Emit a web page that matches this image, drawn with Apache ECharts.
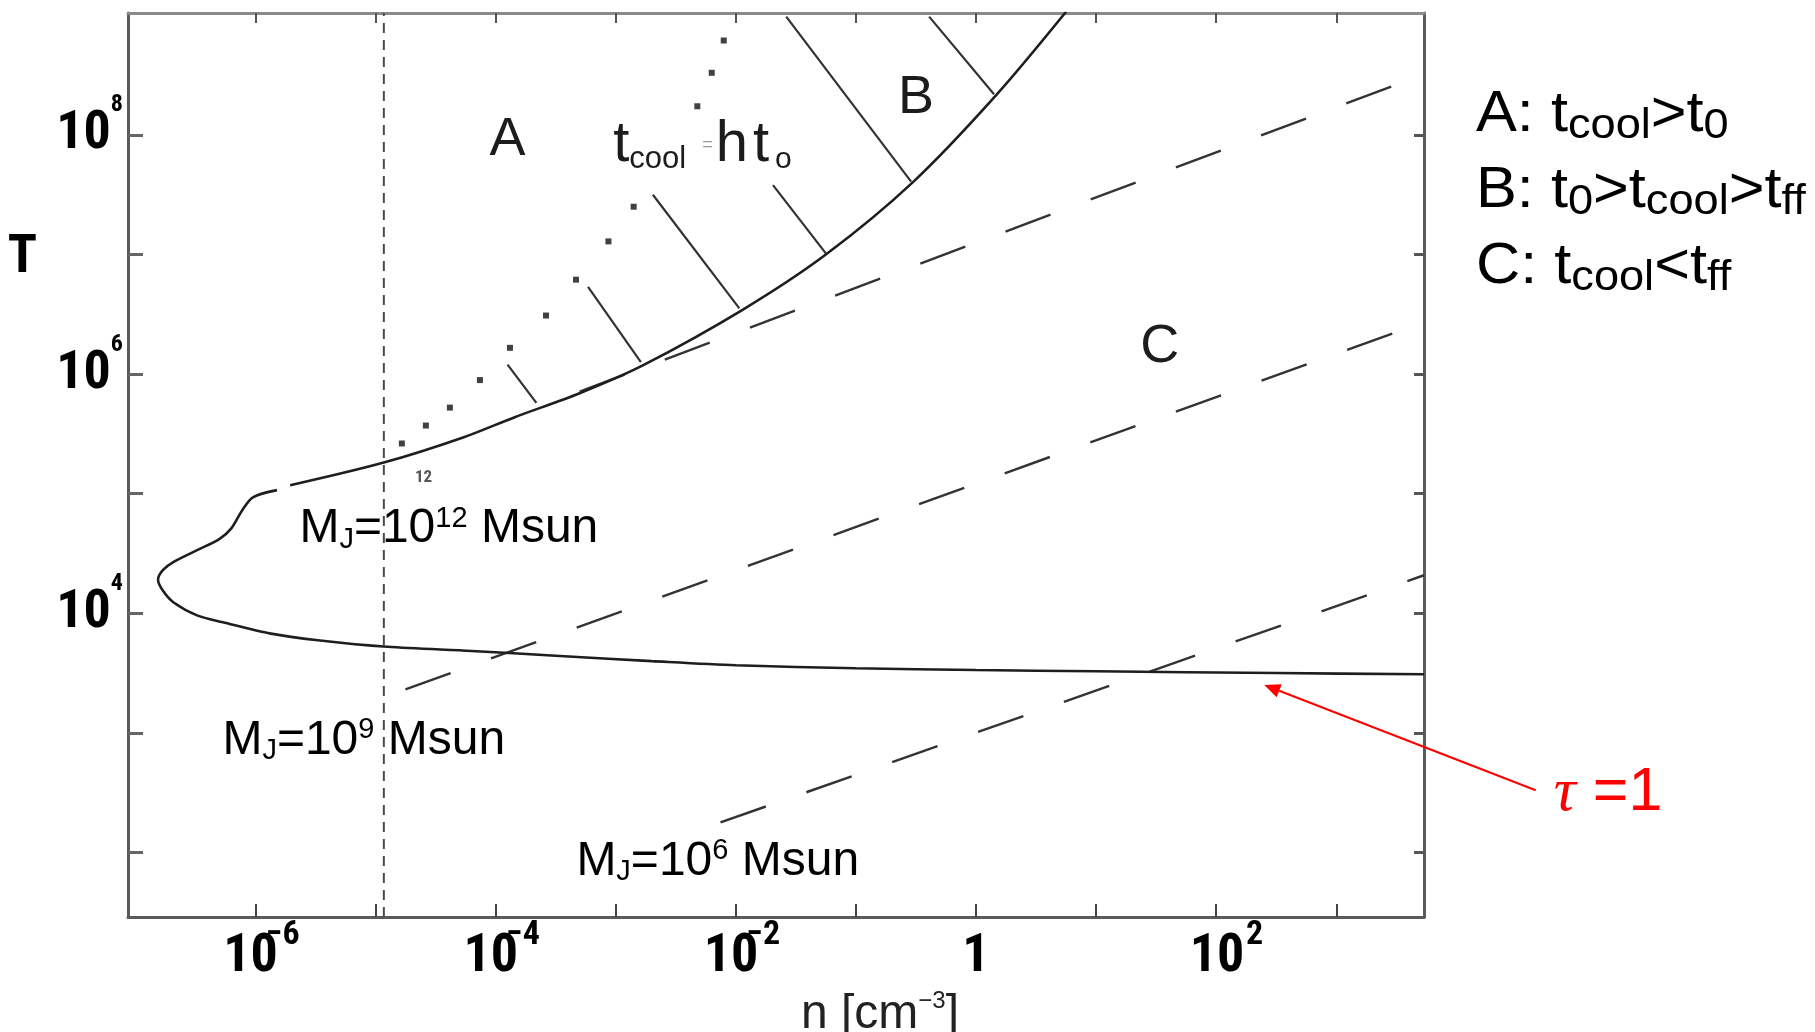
<!DOCTYPE html>
<html>
<head>
<meta charset="utf-8">
<title>Cooling diagram</title>
<script src="https://cdn.jsdelivr.net/npm/echarts@6/dist/echarts.min.js"></script>
<style>
  html, body { margin: 0; padding: 0; background: #ffffff; }
  #chart { width: 1815px; height: 1032px; }
</style>
</head>
<body>
<div id="chart"></div>
<script>
// ---------------------------------------------------------------
// Axis extents, in log10 units (n in cm^-3, T in K)
// ---------------------------------------------------------------
const logNMin = -7.06, logNMax = 3.73;
const logTMin = 1.46, logTMax = 9.02;

// ticks every decade, labels every second decade
const nTicks = [-6, -5, -4, -3, -2, -1, 0, 1, 2, 3];
const nLabelTicks = [-6, -4, -2, 0, 2];
const nLabelExps = ['−6', '−4', '−2', '', '2'];
const tTicks = [2, 3, 4, 5, 6, 7, 8];
const tLabelTicks = [4, 6, 8];
const tLabelExps = ['4', '6', '8'];

// ---------------------------------------------------------------
// t_cool = t_ff boundary (solid); null marks the small break
// ---------------------------------------------------------------
const coolLogN = [3.73, 2.5, 1.0, 0.0, -1.0, -2.0, -2.7, -3.5, -4.2, -4.9, -5.48, -5.87, -6.27,
  -6.48, -6.68, -6.77, -6.81, -6.77, -6.68, -6.48, -6.30, -6.20, -6.11, -6.02, -5.82, null,
  -5.71, -4.93, -4.27, -3.84, -3.3, -2.77, -1.94, -1.25, -0.52, 0.17, 0.75];
const coolLogT = [3.49, 3.50, 3.515, 3.525, 3.54, 3.565, 3.60, 3.645, 3.685, 3.72, 3.775, 3.83, 3.925,
  3.98, 4.09, 4.19, 4.28, 4.36, 4.43, 4.53, 4.62, 4.71, 4.86, 4.97, 5.03, null,
  5.07, 5.26, 5.47, 5.64, 5.84, 6.075, 6.54, 7.00, 7.61, 8.335, 9.03];

// t_cool = h t0 (dotted)
const hLogN = [-2.10, -2.20, -2.32, -2.85, -3.06, -3.33, -3.58, -3.88, -4.13, -4.38, -4.58, -4.78];
const hLogT = [8.79, 8.52, 8.24, 7.40, 7.11, 6.79, 6.49, 6.22, 5.95, 5.72, 5.57, 5.42];

// hatching strokes on region B (outer end -> curve end)
const hatchN0 = [-3.90, -3.23, -2.69, -1.69, -1.58, -0.39];
const hatchT0 = [6.08, 6.73, 7.50, 7.58, 8.99, 8.99];
const hatchN1 = [-3.66, -2.79, -1.97, -1.25, -0.54, 0.15];
const hatchT1 = [5.76, 6.10, 6.55, 7.01, 7.61, 8.34];

// constant Jeans mass lines (dashed)
const mj12LogN = [-3.3, 3.73];
const mj12LogT = [5.854, 8.508];
const mj9LogN = [-4.75, 3.73];
const mj9LogT = [3.364, 6.435];
const mj6LogN = [-2.127, 3.73];
const mj6LogT = [2.251, 4.318];

// vertical dash-dot line
const cutLogN = -4.93;

// tau = 1 pointer (tip, tail)
const tauArrowN = [2.40, 4.66];
const tauArrowT = [3.40, 2.52];

// ---------------------------------------------------------------
// Fonts: prefer a condensed face for the tick lettering
// ---------------------------------------------------------------
const SANS = "'Liberation Sans',Arial,Helvetica,sans-serif";
const SERIF = "'Liberation Serif','Times New Roman',serif";

function faceExists(spec) {
  const ctx = document.createElement('canvas').getContext('2d');
  const sample = 'mmmmwwwwlli10ABCxyz';
  return ['monospace', 'serif'].every(function (base) {
    ctx.font = '40px ' + base;
    const w0 = ctx.measureText(sample).width;
    ctx.font = spec.stretch + ' 40px "' + spec.family + '", ' + base;
    const w1 = ctx.measureText(sample).width;
    if (w0 === w1) return false;
    if (spec.stretch !== 'normal') {
      ctx.font = '40px "' + spec.family + '", ' + base;
      return ctx.measureText(sample).width > w1 + 1;
    }
    return true;
  });
}
const narrowCandidates = [
  { family: 'Liberation Sans Narrow', stretch: 'normal' },
  { family: 'Roboto Condensed', stretch: 'normal' },
  { family: 'Noto Sans', stretch: 'condensed' },
  { family: 'Noto Sans Condensed', stretch: 'normal' },
  { family: 'DejaVu Sans Condensed', stretch: 'normal' },
  { family: 'DejaVu Sans', stretch: 'condensed' },
  { family: 'Open Sans', stretch: 'condensed' }
];
const narrow = narrowCandidates.find(faceExists) || null;
const NARROW = narrow ? '"' + narrow.family + '", ' + SANS : SANS;
const STRETCH = narrow && narrow.stretch !== 'normal' ? ' ' + narrow.stretch : '';
const tickSize = narrow ? 54 : 48;
const BOLD = 'bold' + STRETCH;

function zip(xs, ys) {
  return xs.map((x, i) => (x === null ? ['-', '-'] : [x, ys[i]]));
}
function segments(x0, y0, x1, y1) {
  const out = [];
  x0.forEach((x, i) => {
    out.push([x, y0[i]], [x1[i], y1[i]], ['-', '-']);
  });
  return out;
}
function measure(text, font) {
  const ctx = document.createElement('canvas').getContext('2d');
  ctx.font = font;
  return ctx.measureText(text).width;
}

const chart = echarts.init(document.getElementById('chart'), null, { renderer: 'canvas' });

// widths used to tuck the exponent against the "10"
const xSup = 34;
const tenW = measure('10', BOLD + ' ' + tickSize + 'px ' + NARROW);
const supW = measure('−6', BOLD + ' ' + xSup + 'px ' + NARROW);
const negBase = Math.round(tenW * 0.5 + 4);
const posBase = Math.round(tenW + 3);
const negPad = Math.max(0, Math.round(supW + negBase - tenW + 14));
const posPad = Math.max(0, Math.round(measure('2', BOLD + ' ' + xSup + 'px ' + NARROW) + posBase - tenW - 2));

const labelRichX = {
  pn: { width: negPad },
  pp: { width: posPad },
  bn: { fontSize: tickSize, fontWeight: BOLD, fontFamily: NARROW, width: negBase, lineHeight: 79, color: '#000' },
  bp: { fontSize: tickSize, fontWeight: BOLD, fontFamily: NARROW, width: posBase, lineHeight: 79, color: '#000' },
  one: { fontSize: tickSize, fontWeight: BOLD, fontFamily: NARROW, lineHeight: 79, color: '#000' },
  s: { fontSize: xSup, fontWeight: BOLD, fontFamily: NARROW, verticalAlign: 'top', lineHeight: 22, color: '#000' }
};
const labelRichY = {
  b: { fontSize: tickSize, fontWeight: BOLD, fontFamily: NARROW, width: Math.round(tenW - 12), lineHeight: 83, color: '#000' },
  s: { fontSize: 24, fontWeight: BOLD, fontFamily: NARROW, verticalAlign: 'top', lineHeight: 20, color: '#000' }
};

const frameColor = '#5a5a5a';

const option = {
  animation: false,
  backgroundColor: '#ffffff',
  grid: { left: 128, top: 13, width: 1296, height: 904, containLabel: false, outerBoundsMode: 'none' },
  xAxis: [
    {
      type: 'value', min: logNMin, max: logNMax, position: 'bottom',
      axisLine: { show: true, onZero: false, lineStyle: { color: frameColor, width: 3 } },
      axisTick: { show: true, inside: true, length: 13, customValues: nTicks, lineStyle: { color: '#444', width: 2 } },
      splitLine: { show: false },
      axisLabel: {
        show: true, margin: 1, customValues: nLabelTicks,
        formatter: function (v) {
          const i = nLabelTicks.indexOf(Math.round(v));
          const e = nLabelExps[i];
          if (e === '') return '{one|1}';
          if (e.charAt(0) === '−') return '{pn| }{bn|10}{s|' + e + '}';
          return '{pp| }{bp|10}{s|' + e + '}';
        },
        rich: labelRichX
      },
      name: '{a|n [cm}{s|−3}{a|]}',
      nameLocation: 'middle', nameGap: 54,
      nameTextStyle: {
        padding: [0, 0, 0, 208],
        rich: {
          a: { fontSize: 48, fontFamily: SANS, color: '#222', lineHeight: 50 },
          s: { fontSize: 24, fontFamily: SANS, color: '#222', verticalAlign: 'top', lineHeight: 20 }
        }
      }
    },
    {
      type: 'value', min: logNMin, max: logNMax, position: 'top',
      axisLine: { show: true, onZero: false, lineStyle: { color: '#8a8a8a', width: 3 } },
      axisTick: { show: true, inside: true, length: 10, customValues: nTicks, lineStyle: { color: '#555', width: 2 } },
      axisLabel: { show: false },
      splitLine: { show: false }
    }
  ],
  yAxis: [
    {
      type: 'value', min: logTMin, max: logTMax, position: 'left',
      axisLine: { show: true, onZero: false, lineStyle: { color: frameColor, width: 3 } },
      axisTick: { show: true, inside: true, length: 15, customValues: tTicks, lineStyle: { color: '#666', width: 3 } },
      splitLine: { show: false },
      axisLabel: {
        show: true, margin: 5, customValues: tLabelTicks,
        formatter: function (v) {
          const i = tLabelTicks.indexOf(Math.round(v));
          return '{b|10}{s|' + tLabelExps[i] + '}';
        },
        rich: labelRichY
      }
    },
    {
      type: 'value', min: logTMin, max: logTMax, position: 'right',
      axisLine: { show: true, onZero: false, lineStyle: { color: frameColor, width: 3 } },
      axisTick: { show: true, inside: true, length: 10, customValues: tTicks, lineStyle: { color: '#555', width: 3 } },
      axisLabel: { show: false },
      splitLine: { show: false }
    }
  ],
  series: [
    {
      name: 't_cool = t_ff', type: 'line', xAxisIndex: 0, yAxisIndex: 0,
      data: zip(coolLogN, coolLogT), showSymbol: false, smooth: 0.3, connectNulls: false,
      lineStyle: { color: '#1e1e1e', width: 2.6 }, z: 4
    },
    {
      name: 't_cool = h t0', type: 'scatter', xAxisIndex: 0, yAxisIndex: 0,
      data: zip(hLogN, hLogT), symbol: 'rect', symbolSize: 6,
      itemStyle: { color: '#111' }, z: 4
    },
    {
      name: 'hatch', type: 'line', xAxisIndex: 0, yAxisIndex: 0,
      data: segments(hatchN0, hatchT0, hatchN1, hatchT1), showSymbol: false, connectNulls: false,
      lineStyle: { color: '#333', width: 2.2 }, z: 3
    },
    {
      name: 'M_J = 1e12', type: 'line', xAxisIndex: 0, yAxisIndex: 0,
      data: zip(mj12LogN, mj12LogT), showSymbol: false,
      lineStyle: { color: '#333', width: 2.4, type: [48, 43] }, z: 3
    },
    {
      name: 'M_J = 1e9', type: 'line', xAxisIndex: 0, yAxisIndex: 0,
      data: zip(mj9LogN, mj9LogT), showSymbol: false,
      lineStyle: { color: '#333', width: 2.4, type: [48, 43] }, z: 3
    },
    {
      name: 'M_J = 1e6', type: 'line', xAxisIndex: 0, yAxisIndex: 0,
      data: zip(mj6LogN, mj6LogT), showSymbol: false,
      lineStyle: { color: '#333', width: 2.4, type: [48, 43] }, z: 3
    },
    {
      name: 'cut', type: 'line', xAxisIndex: 0, yAxisIndex: 0,
      data: [[cutLogN, logTMin], [cutLogN, logTMax]], showSymbol: false,
      lineStyle: { color: '#4a4a4a', width: 2, type: [10, 7] }, z: 2
    }
  ]
};

chart.setOption(option);

// ---------------------------------------------------------------
// Annotations, anchored in data space
// ---------------------------------------------------------------
function px(n, t) { return chart.convertToPixel({ xAxisIndex: 0, yAxisIndex: 0 }, [n, t]); }

function plainText(txt, n, t, size, family, weight, fill) {
  const p = px(n, t);
  return {
    type: 'text', x: p[0], y: p[1], z: 10,
    style: {
      text: txt, fontSize: size, fontFamily: family, fontWeight: weight,
      fill: fill, align: 'center', verticalAlign: 'middle'
    }
  };
}

const graphics = [];

// axis title on the T axis
graphics.push(plainText('T', logNMin - 0.88, 6.97, 54, NARROW, BOLD, '#000'));

// region letters
graphics.push(plainText('A', -3.90, 7.96, 54, SANS, 'normal', '#1c1c1c'));
graphics.push(plainText('B', -0.50, 8.31, 54, SANS, 'normal', '#1c1c1c'));
graphics.push(plainText('C', 1.53, 6.23, 54, SANS, 'normal', '#1c1c1c'));
graphics.push(plainText('12', -4.60, 5.13, 17, NARROW, BOLD, '#555'));

// t_cool = h t0 label
(function () {
  const p = px(-3.02, 7.92);
  graphics.push({
    type: 'text', x: p[0], y: p[1], z: 10,
    style: {
      text: '{m|t}{c|cool}{e|=}{m|h}{k|t}{o|o}',
      align: 'left', verticalAlign: 'middle',
      rich: {
        m: { fontSize: 58, fontFamily: SANS, fill: '#1c1c1c', lineHeight: 60 },
        k: { fontSize: 58, fontFamily: SANS, fill: '#1c1c1c', lineHeight: 60, padding: [0, 0, 0, 5] },
        c: { fontSize: 31, fontFamily: SANS, fill: '#1c1c1c', verticalAlign: 'bottom', lineHeight: 18 },
        e: { fontSize: 18, fontFamily: SANS, fill: '#999', padding: [0, 3, 0, 16], lineHeight: 40 },
        o: { fontSize: 30, fontFamily: SANS, fill: '#1c1c1c', verticalAlign: 'bottom', lineHeight: 20, padding: [0, 0, 0, 6] }
      }
    }
  });
})();

// Jeans mass labels
const mjRich = {
  m: { fontSize: 48, fontFamily: SANS, fill: '#000', lineHeight: 50 },
  sub: { fontSize: 29, fontFamily: SANS, fill: '#000', verticalAlign: 'bottom', lineHeight: 18 },
  sup: { fontSize: 29, fontFamily: SANS, fill: '#000', verticalAlign: 'top', lineHeight: 29 }
};
const mjLabels = [
  { exp: '12', n: -5.633, t: 4.703 },
  { exp: '9', n: -6.274, t: 2.937 },
  { exp: '6', n: -3.327, t: 1.925 }
];
mjLabels.forEach(l => {
  const p = px(l.n, l.t);
  graphics.push({
    type: 'text', x: p[0], y: p[1], z: 10,
    style: {
      text: '{m|M}{sub|J}{m|=10}{sup|' + l.exp + '}{m| Msun}',
      align: 'left', verticalAlign: 'middle', rich: mjRich
    }
  });
});

// tau = 1 pointer
(function () {
  const tip = px(tauArrowN[0], tauArrowT[0]);
  const tail = px(tauArrowN[1], tauArrowT[1]);
  const dx = tip[0] - tail[0], dy = tip[1] - tail[1];
  const len = Math.sqrt(dx * dx + dy * dy);
  const ux = dx / len, uy = dy / len;
  const hl = 16, hw = 7;
  const bx = tip[0] - ux * hl, by = tip[1] - uy * hl;
  graphics.push({
    type: 'line', z: 11,
    shape: { x1: tail[0], y1: tail[1], x2: bx, y2: by },
    style: { stroke: '#ff0000', lineWidth: 2 }
  });
  graphics.push({
    type: 'polygon', z: 11,
    shape: { points: [[tip[0], tip[1]], [bx - uy * hw, by + ux * hw], [bx + uy * hw, by - ux * hw]] },
    style: { fill: '#ff0000' }
  });
  graphics.push({
    type: 'text', x: tail[0] + 18, y: tail[1] + 3, z: 11,
    style: {
      text: '{g|τ}{r| =1}', align: 'left', verticalAlign: 'middle',
      rich: {
        g: { fontSize: 62, fontFamily: SERIF, fontStyle: 'italic', fill: '#ff0000' },
        r: { fontSize: 61, fontFamily: SANS, fill: '#ff0000' }
      }
    }
  });
})();

// region key on the right
const keyLines = [
  '{m|A: t}{s|cool}{m|>t}{s|0}',
  '{m|B: t}{s|0}{m|>t}{s|cool}{m|>t}{s|ff}',
  '{m|C: t}{s|cool}{m|<t}{s|ff}'
];
const keyRich = {
  m: { fontSize: 57, fontFamily: SANS, fill: '#000', lineHeight: 64 },
  s: { fontSize: 42, fontFamily: SANS, fill: '#000', verticalAlign: 'bottom', lineHeight: 26 }
};
keyLines.forEach((txt, i) => {
  graphics.push({
    type: 'text', x: 1476, y: 83 + i * 76, z: 10, scaleX: 1.075,
    style: { text: txt, align: 'left', verticalAlign: 'top', rich: keyRich }
  });
});

chart.setOption({ graphic: graphics });
</script>
</body>
</html>
